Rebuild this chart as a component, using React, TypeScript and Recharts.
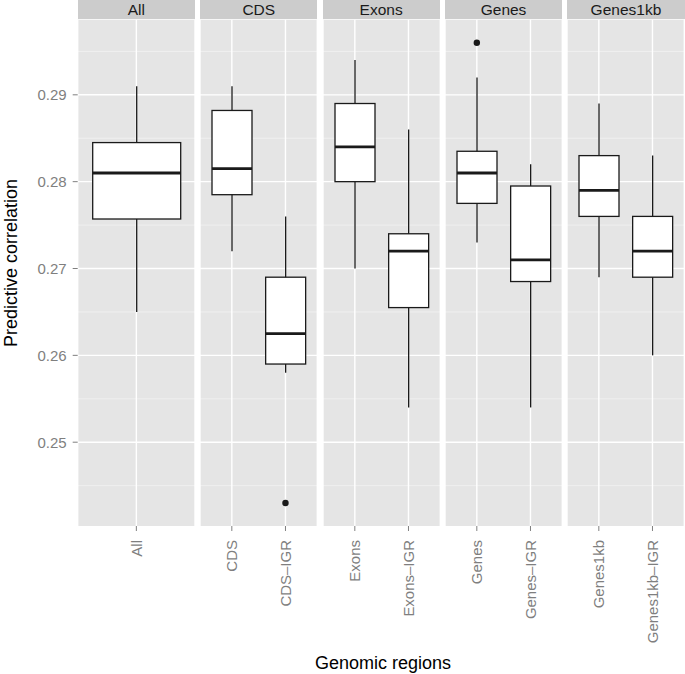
import React from 'react';
import { ComposedChart, Bar, Scatter, XAxis, YAxis, CartesianGrid } from 'recharts';

// values
const facets = ['All', 'CDS', 'Exons', 'Genes', 'Genes1kb'];
const regions = ['All', 'CDS', 'CDS–IGR', 'Exons', 'Exons–IGR', 'Genes', 'Genes–IGR', 'Genes1kb', 'Genes1kb–IGR'];
const regionFacet = ['All', 'CDS', 'CDS', 'Exons', 'Exons', 'Genes', 'Genes', 'Genes1kb', 'Genes1kb'];
const whiskerLow = [0.265, 0.272, 0.258, 0.27, 0.254, 0.273, 0.254, 0.269, 0.26];
const lowerQuartile = [0.2757, 0.2785, 0.259, 0.28, 0.2655, 0.2775, 0.2685, 0.276, 0.269];
const medians = [0.281, 0.2815, 0.2625, 0.284, 0.272, 0.281, 0.271, 0.279, 0.272];
const upperQuartile = [0.2845, 0.2882, 0.269, 0.289, 0.274, 0.2835, 0.2795, 0.283, 0.276];
const whiskerHigh = [0.291, 0.291, 0.276, 0.294, 0.286, 0.292, 0.282, 0.289, 0.283];
const outliers: (number | null)[] = [null, null, 0.243, null, null, 0.296, null, null, null];

const yTicks = [0.25, 0.26, 0.27, 0.28, 0.29];
const yMinorTicks = [0.245, 0.255, 0.265, 0.275, 0.285, 0.295];
const yDomain: [number, number] = [0.24035, 0.29865];

// layout (ggplot facet look)
const W = 685;
const H = 674;
const PANEL_TOP = 19.7;
const PANEL_BOTTOM = 526;
const FIRST_LEFT = 77.7;
const PANEL_W = 117.3;
const PANEL_GAP = 5.1;
const TICK_FONT = 15;

const PANEL_BG = '#E5E5E5';
const STRIP_BG = '#CCCCCC';
const GREY50 = '#7F7F7F';
const INK = '#1A1A1A';
const FONT = '"Liberation Sans", Arial, Helvetica, sans-serif';

function BoxShape(props: any) {
  const { x, y, width, height, payload } = props;
  if (!payload || !isFinite(y) || !isFinite(height)) return <g />;
  const [lo, hi] = payload.whiskers;
  const top = Math.min(y, y + height);
  const h = Math.abs(height);
  // linear scale: reuse the pixel span the bar got from the y axis
  const toY = (v: number) => top + ((hi - v) / (hi - lo)) * h;
  const cx = x + width / 2;
  const yQ3 = toY(payload.q3);
  const yQ1 = toY(payload.q1);
  const yMed = toY(payload.median);
  return (
    <g>
      <line x1={cx} x2={cx} y1={toY(hi)} y2={toY(lo)} stroke={INK} strokeWidth={1.3} />
      <rect x={x} y={yQ3} width={width} height={yQ1 - yQ3} fill="#fff" stroke={INK} strokeWidth={1.3} />
      <line x1={x} x2={x + width} y1={yMed} y2={yMed} stroke={INK} strokeWidth={2.8} />
    </g>
  );
}

function OutlierDot(props: any) {
  const { cx, cy, payload } = props;
  if (!payload || payload.outlier == null || !isFinite(cx) || !isFinite(cy)) return <g />;
  return <circle cx={cx} cy={cy} r={3.2} fill={INK} />;
}

function RegionTick(props: any) {
  const { x, payload } = props;
  const ty = PANEL_BOTTOM + 14;
  return (
    <text
      x={x}
      y={ty}
      transform={`rotate(-90 ${x} ${ty})`}
      textAnchor="end"
      dy="0.36em"
      fill={GREY50}
      fontSize={TICK_FONT}
      fontFamily={FONT}
    >
      {payload.value}
    </text>
  );
}

function Facet({ facet, index }: { facet: string; index: number }) {
  const rows = regions
    .map((region, i) => ({
      region,
      facet: regionFacet[i],
      whiskers: [whiskerLow[i], whiskerHigh[i]],
      q1: lowerQuartile[i],
      median: medians[i],
      q3: upperQuartile[i],
      outlier: outliers[i],
    }))
    .filter((r) => r.facet === facet);

  const first = index === 0;
  const left = first ? 0 : FIRST_LEFT + index * (PANEL_W + PANEL_GAP);
  const width = first ? FIRST_LEFT + PANEL_W : PANEL_W;
  const boxWidth = rows.length === 1 ? 88 : 40;

  return (
    <div style={{ position: 'absolute', left, top: 0 }}>
      <ComposedChart
        width={width}
        height={H}
        data={rows}
        margin={{ top: PANEL_TOP, right: 0, bottom: 0, left: 0 }}
      >
        <CartesianGrid
          vertical={false}
          horizontalValues={yMinorTicks}
          stroke="#F2F2F2"
          strokeWidth={0.8}
          fill={PANEL_BG}
          fillOpacity={1}
        />
        <CartesianGrid horizontalValues={yTicks} stroke="#FFFFFF" strokeWidth={1.4} />
        <XAxis
          dataKey="region"
          type="category"
          height={H - PANEL_BOTTOM}
          interval={0}
          padding={{ left: 5, right: 5 }}
          axisLine={false}
          tickSize={5}
          tickLine={{ stroke: GREY50 }}
          tick={<RegionTick />}
        />
        <YAxis
          type="number"
          domain={yDomain}
          ticks={yTicks}
          allowDataOverflow
          hide={!first}
          width={FIRST_LEFT}
          axisLine={false}
          tickSize={5}
          tickMargin={6}
          tickLine={{ stroke: GREY50 }}
          tick={{ fill: GREY50, fontSize: TICK_FONT, fontFamily: FONT }}
          tickFormatter={(v: number) => v.toFixed(2)}
        />
        <Bar dataKey="whiskers" barSize={boxWidth} shape={<BoxShape />} isAnimationActive={false} />
        <Scatter dataKey="outlier" shape={<OutlierDot />} isAnimationActive={false} />
      </ComposedChart>
      <div
        style={{
          position: 'absolute',
          left: first ? FIRST_LEFT : 0,
          top: 0,
          width: PANEL_W,
          height: PANEL_TOP - 0.3,
          background: STRIP_BG,
          color: INK,
          fontSize: 15.5,
          lineHeight: `${PANEL_TOP}px`,
          textAlign: 'center',
        }}
      >
        {facet}
      </div>
    </div>
  );
}

export default function App() {
  return (
    <div
      style={{
        position: 'absolute',
        left: 0,
        top: 0,
        width: W,
        height: H,
        background: '#fff',
        fontFamily: FONT,
        overflow: 'hidden',
      }}
    >
      {facets.map((f, i) => (
        <Facet key={f} facet={f} index={i} />
      ))}
      <div
        style={{
          position: 'absolute',
          left: 11,
          top: 263,
          transform: 'translate(-50%, -50%) rotate(-90deg)',
          whiteSpace: 'nowrap',
          fontSize: 18,
          color: '#000',
        }}
      >
        Predictive correlation
      </div>
      <div
        style={{
          position: 'absolute',
          left: 383,
          top: 663,
          transform: 'translate(-50%, -50%)',
          whiteSpace: 'nowrap',
          fontSize: 18,
          color: '#000',
        }}
      >
        Genomic regions
      </div>
    </div>
  );
}
